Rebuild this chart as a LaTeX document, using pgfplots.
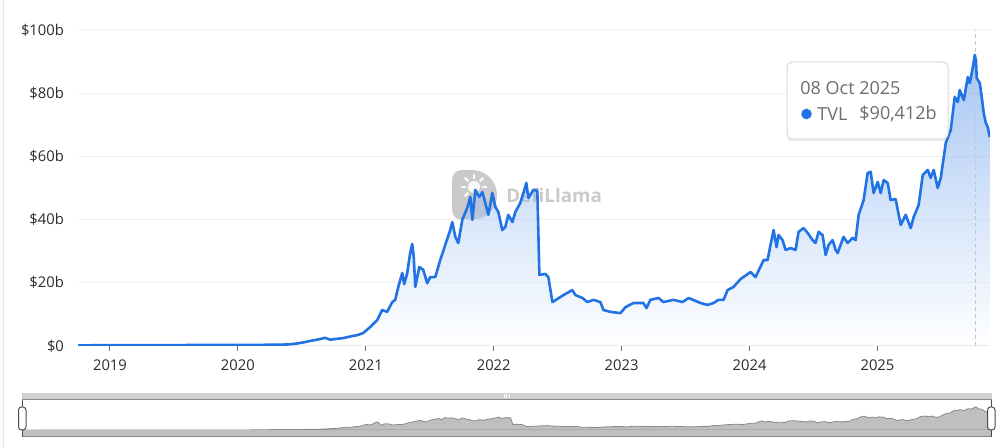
\documentclass[border=0pt]{standalone}
\usepackage{fontspec}
\setmainfont{Open Sans}
\usepackage{pgfplots}
\usepackage{pgfplotstable}
\pgfplotsset{compat=1.18}
\usetikzlibrary{shadows}

\definecolor{tvlblue}{HTML}{2172E5}
\definecolor{gridgray}{HTML}{F0F0F0}
\definecolor{axisgray}{HTML}{DCDCDC}
\definecolor{tickgray}{HTML}{6E7079}
\definecolor{labelgray}{HTML}{2B2B2B}
\definecolor{tipgray}{HTML}{6E6E6E}
\definecolor{minifill}{HTML}{BFBFBF}
\definecolor{miniline}{HTML}{8A8A8A}
\definecolor{barsgray}{HTML}{D0D0D0}
\definecolor{wmgray}{HTML}{C4C4C4}

% TVL in billions of USD, x in decimal years
\pgfplotstableread{
year tvl
2018.750 0.2
2019.000 0.25
2019.300 0.25
2019.600 0.3
2019.900 0.3
2020.100 0.35
2020.300 0.4
2020.400 0.5
2020.463 0.8
2020.520 1.2
2020.565 1.6
2020.643 2.2
2020.680 2.6
2020.721 2.0
2020.760 2.2
2020.823 2.5
2020.901 3.2
2020.940 3.5
2020.980 4.1
2021.034 6.0
2021.089 8.2
2021.128 11.4
2021.167 10.8
2021.207 13.9
2021.230 14.6
2021.254 18.7
2021.285 23.1
2021.300 19.6
2021.324 23.1
2021.345 29.0
2021.363 32.3
2021.375 28.0
2021.387 18.7
2021.418 25.0
2021.449 24.1
2021.480 19.9
2021.504 21.8
2021.543 21.8
2021.582 27.2
2021.621 32.0
2021.660 36.7
2021.676 39.2
2021.700 34.5
2021.723 32.6
2021.754 39.9
2021.793 43.7
2021.817 47.2
2021.833 39.9
2021.856 49.4
2021.887 47.2
2021.911 48.7
2021.934 45.3
2021.958 41.5
2021.989 48.4
2022.013 44.0
2022.036 42.4
2022.067 36.7
2022.091 37.7
2022.114 41.5
2022.146 39.2
2022.169 42.4
2022.208 45.3
2022.232 48.4
2022.255 51.6
2022.271 46.8
2022.310 49.4
2022.341 49.1
2022.357 22.5
2022.404 22.8
2022.427 21.8
2022.459 13.9
2022.498 14.9
2022.545 16.1
2022.615 17.7
2022.639 16.1
2022.693 15.2
2022.732 13.9
2022.779 14.6
2022.834 13.9
2022.858 11.4
2022.912 10.8
2022.991 10.4
2023.030 12.3
2023.092 13.6
2023.171 13.6
2023.194 12.0
2023.225 14.6
2023.288 15.2
2023.327 13.9
2023.405 14.6
2023.476 13.9
2023.523 15.2
2023.617 13.6
2023.671 13.0
2023.718 13.6
2023.757 14.6
2023.797 14.6
2023.828 17.7
2023.875 18.7
2023.930 21.2
2024.008 23.4
2024.047 21.8
2024.110 27.2
2024.141 27.2
2024.164 32.0
2024.188 36.7
2024.211 31.3
2024.227 35.1
2024.258 33.5
2024.282 30.4
2024.321 31.0
2024.360 30.4
2024.383 36.1
2024.422 37.3
2024.454 35.8
2024.493 33.5
2024.516 32.6
2024.540 36.1
2024.571 35.1
2024.595 28.8
2024.618 32.0
2024.649 33.5
2024.673 30.4
2024.689 29.4
2024.712 32.0
2024.735 34.5
2024.767 32.6
2024.806 34.2
2024.829 33.5
2024.853 41.5
2024.892 46.2
2024.923 54.7
2024.947 55.1
2024.970 48.4
2025.002 51.9
2025.025 48.4
2025.049 52.5
2025.080 51.6
2025.103 46.2
2025.142 46.5
2025.166 41.5
2025.182 38.3
2025.221 41.5
2025.260 37.3
2025.283 40.8
2025.322 44.6
2025.354 54.1
2025.393 55.7
2025.416 53.2
2025.440 55.7
2025.471 50.0
2025.495 53.2
2025.534 64.2
2025.573 68.4
2025.604 78.8
2025.628 77.2
2025.643 81.0
2025.675 77.8
2025.706 85.1
2025.722 83.2
2025.745 88.0
2025.761 92.1
2025.770 90.4
2025.776 84.8
2025.800 83.2
2025.815 78.8
2025.831 73.7
2025.847 70.6
2025.862 69.3
2025.878 66.1
}\tvldata

\begin{document}
\begin{tikzpicture}
\useasboundingbox (0,0) rectangle (500pt,224pt);

% pixel-like frame: 1 unit = 1px of the 1000x448 image
\begin{scope}[x=0.5pt, y=-0.5pt, shift={(0pt,224pt)}]
  \draw[gray!20, line width=0.5pt] (3,0) -- (3,448);
  % watermark
  \begin{scope}[opacity=0.9]
    \fill[wmgray] (452,180) arc[start angle=180, end angle=270, radius=10] -- (472,170)
      arc[start angle=-90, end angle=90, radius=25] -- (462,220)
      arc[start angle=90, end angle=180, radius=10] -- cycle;
    \fill[white] (474,187) circle[radius=6];
    \foreach \a in {0,45,...,315}
      \draw[white, line width=1.2pt] (474,187) ++(\a:8) -- ++(\a:5);
    \node[anchor=west, text=wmgray, font=\fontsize{9.4}{10}\selectfont\bfseries, inner sep=0pt]
      at (506,195) {DefiLlama};
  \end{scope}
\end{scope}

% main chart
\begin{axis}[
  at={(39pt,51pt)}, anchor=south west,
  scale only axis, width=456pt, height=158pt,
  xmin=2018.75, xmax=2025.88, ymin=0, ymax=100,
  xtick={2019,2020,2021,2022,2023,2024,2025},
  xticklabels={2019,2020,2021,2022,2023,2024,2025},
  ytick={0,20,40,60,80,100},
  yticklabels={\$0,\$20b,\$40b,\$60b,\$80b,\$100b},
  axis x line*=bottom, axis y line*=left,
  x axis line style={draw=axisgray, line width=0.5pt},
  y axis line style={draw=none},
  xtick style={draw=tickgray, line width=0.5pt},
  ytick style={draw=none},
  tick align=outside, major tick length=2.5pt,
  ymajorgrids, grid style={draw=gridgray, line width=0.5pt},
  tick label style={font=\fontsize{7.4}{8}\selectfont, text=labelgray},
  xticklabel style={yshift=-1pt},
  yticklabel style={xshift=-1pt},
]
\addplot[draw=none, top color=tvlblue, bottom color=white, fill opacity=0.4, forget plot]
  table[x=year, y=tvl] {\tvldata} \closedcycle;
\addplot[draw=gray!45, dash pattern=on 2pt off 1.5pt, line width=0.5pt, forget plot]
  coordinates {(2025.77,0) (2025.77,100)};
\addplot[tvlblue, line width=1.3pt, line join=round, mark=none]
  table[x=year, y=tvl] {\tvldata};
\end{axis}

% data zoom slider: mini chart
\begin{axis}[
  at={(11pt,5.5pt)}, anchor=south west,
  scale only axis, width=485pt, height=18.5pt,
  xmin=2018.75, xmax=2025.88, ymin=-27.6, ymax=119.6,
  hide axis,
]
\addplot[draw=miniline, line width=0.4pt, fill=minifill]
  table[x=year, y=tvl] {\tvldata} \closedcycle;
\addplot[draw=none, fill=minifill] coordinates {(2018.75,-27.6) (2025.88,-27.6) (2025.88,0) (2018.75,0)} -- cycle;
\end{axis}

\begin{scope}[x=0.5pt, y=-0.5pt, shift={(0pt,224pt)}]
  % slider frame
  \fill[barsgray] (22,393) rectangle (992,400);
  \draw[miniline, line width=0.5pt] (22,400) -- (992,400);
  \draw[miniline, line width=0.5pt] (22,437) -- (992,437);
  \foreach \xx in {504,506.5,509}
    \draw[white, line width=0.4pt] (\xx,394.5) -- (\xx,398);
  % handles
  \draw[black!70, line width=0.5pt] (22,400) -- (22,437);
  \draw[black!70, line width=0.5pt] (991,400) -- (991,437);
  \draw[black!70, fill=white, line width=0.5pt, rounded corners=1.5pt] (18.5,407) rectangle (26,430);
  \draw[black!70, fill=white, line width=0.5pt, rounded corners=1.5pt] (987.5,407) rectangle (995,430);

  % tooltip
  \draw[gray!30, fill=white, line width=0.5pt, rounded corners=2.5pt,
        drop shadow={opacity=0.15, shadow xshift=0pt, shadow yshift=-1.2pt}]
    (787,62) rectangle (948,139);
  \node[anchor=west, text=tipgray, font=\fontsize{9}{10}\selectfont, inner sep=0pt]
    at (800,88) {08 Oct 2025};
  \fill[tvlblue] (806.5,114) circle[radius=5.3];
  \node[anchor=west, text=tipgray, font=\fontsize{9}{10}\selectfont, inner sep=0pt]
    at (817,114) {TVL};
  \node[anchor=east, text=tipgray, font=\fontsize{9}{10}\selectfont, inner sep=0pt]
    at (937,114) {\$90,412b};
\end{scope}
\end{tikzpicture}
\end{document}
